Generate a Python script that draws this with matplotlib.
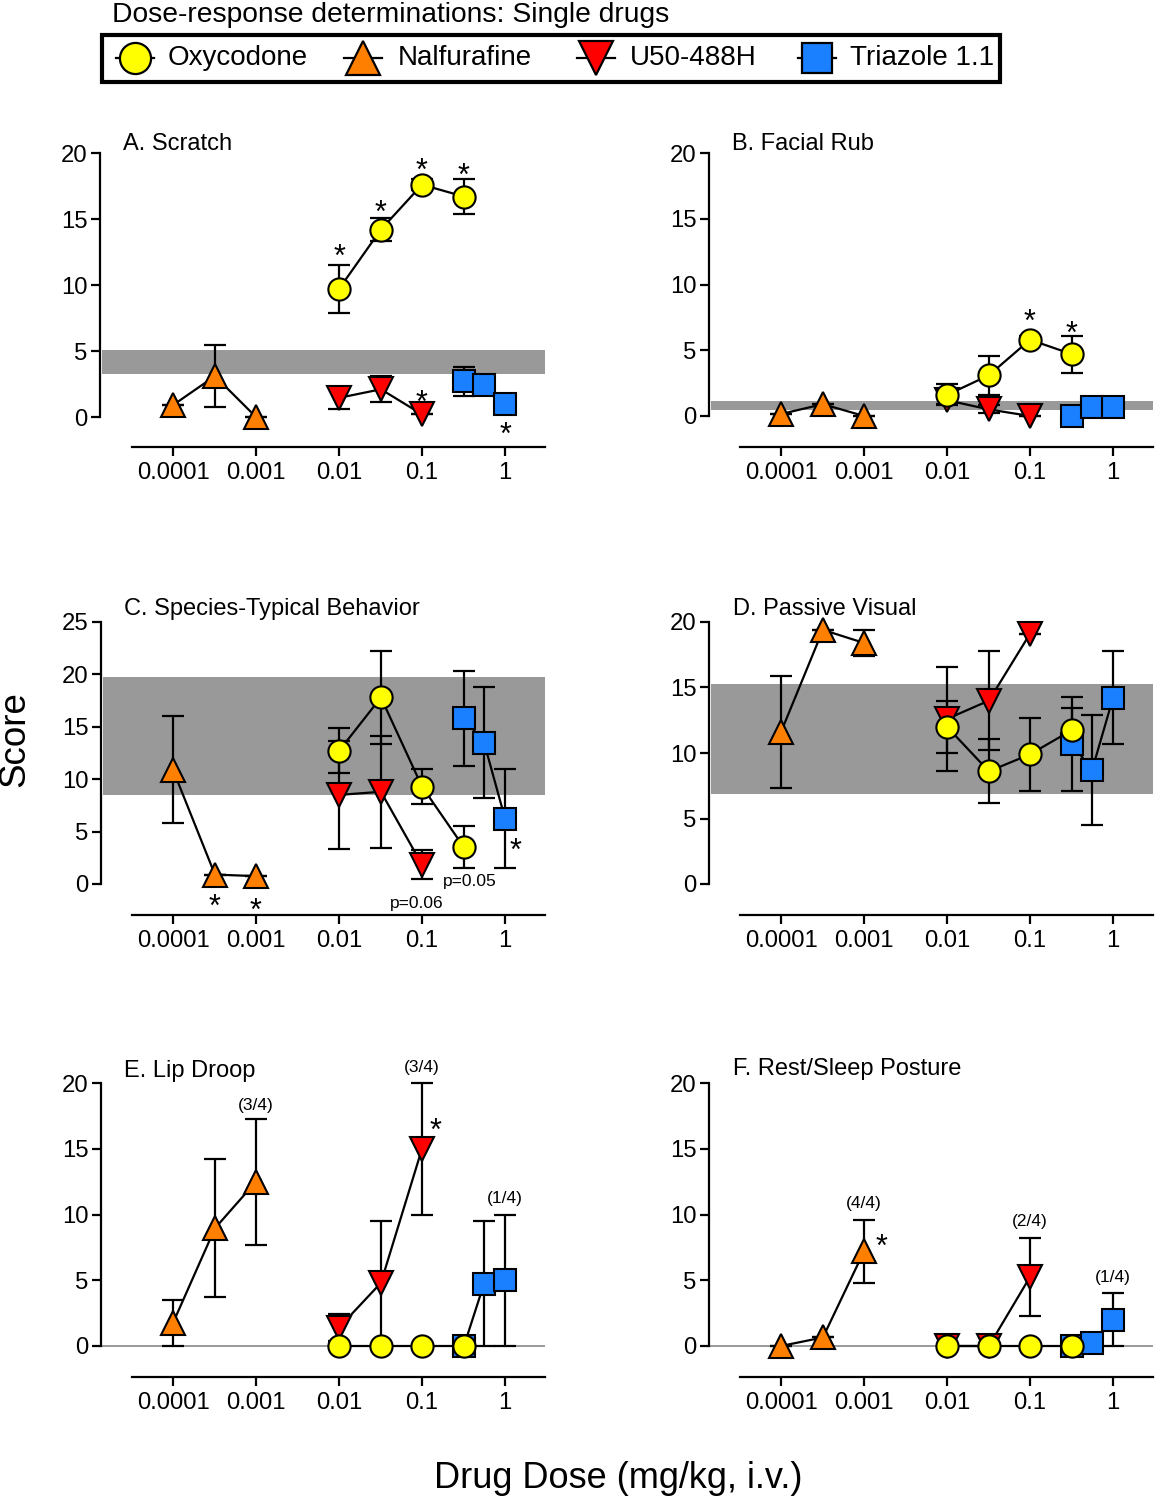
import matplotlib
matplotlib.use('Agg')
import matplotlib.pyplot as plt
import numpy as np
from matplotlib.transforms import ScaledTranslation
from matplotlib.ticker import NullLocator
from matplotlib.patches import Rectangle

plt.rcParams['font.family'] = ['Liberation Sans', 'DejaVu Sans']

# ---------------- data ----------------
dose_nal = [1e-4, 3.2e-4, 1e-3]
dose_oxy = [0.01, 0.032, 0.1, 0.32]
dose_u50 = [0.01, 0.032, 0.1]
dose_tri = [0.32, 0.56, 1.0]

drug_names = ['Oxycodone', 'Nalfurafine', 'U50-488H', 'Triazole 1.1']
tick_vals = [1e-4, 1e-3, 1e-2, 1e-1, 1]
tick_labels = ['0.0001', '0.001', '0.01', '0.1', '1']

# A. Scratch
A_oxy = [9.7, 14.2, 17.6, 16.7];   A_oxy_sem = [1.85, 0.9, 0.4, 1.3]
A_nal = [0.9, 3.1, 0.0];           A_nal_sem = [0.0, 2.35, 0.0]
A_u50 = [1.45, 2.1, 0.2];          A_u50_sem = [0.85, 1.0, 0.0]
A_tri = [2.7, 2.4, 0.95];          A_tri_sem = [1.1, 0.5, 0.3]
A_band = [3.25, 5.07]
# B. Facial Rub
B_oxy = [1.6, 3.1, 5.8, 4.7];      B_oxy_sem = [0.8, 1.5, 0.3, 1.4]
B_nal = [0.15, 0.9, 0.0];          B_nal_sem = [0.0, 0.0, 0.0]
B_u50 = [1.2, 0.5, 0.0];           B_u50_sem = [0.3, 0.3, 0.0]
B_tri = [0.0, 0.7, 0.7];           B_tri_sem = [0.0, 0.0, 0.0]
B_band = [0.45, 1.15]
# C. Species-Typical Behavior
C_oxy = [12.7, 17.8, 9.3, 3.5];    C_oxy_sem = [2.15, 4.4, 1.65, 2.0]
C_nal = [10.9, 0.9, 0.75];         C_nal_sem = [5.1, 0.0, 0.0]
C_u50 = [8.5, 8.8, 1.85];          C_u50_sem = [5.15, 5.35, 1.4]
C_tri = [15.8, 13.5, 6.25];        C_tri_sem = [4.55, 5.3, 4.7]
C_band = [8.5, 19.75]
# D. Passive Visual
D_oxy = [12.0, 8.6, 9.9, 11.75];   D_oxy_sem = [2.0, 2.45, 2.8, 1.7]
D_nal = [11.6, 19.4, 18.4];        D_nal_sem = [4.3, 0.0, 1.0]
D_u50 = [12.6, 14.0, 19.1];        D_u50_sem = [4.0, 3.8, 0.0]
D_tri = [10.7, 8.7, 14.2];         D_tri_sem = [3.6, 4.2, 3.55]
D_band = [6.9, 15.3]
# E. Lip Droop
E_oxy = [0.0, 0.0, 0.0, 0.0];      E_oxy_sem = [0.0, 0.0, 0.0, 0.0]
E_nal = [1.75, 8.95, 12.5];        E_nal_sem = [1.75, 5.25, 4.8]
E_u50 = [1.4, 4.8, 15.0];          E_u50_sem = [1.0, 4.7, 5.0]
E_tri = [0.0, 4.75, 5.0];          E_tri_sem = [0.0, 4.75, 5.0]
# F. Rest/Sleep Posture
F_oxy = [0.0, 0.0, 0.0, 0.0];      F_oxy_sem = [0.0, 0.0, 0.0, 0.0]
F_nal = [0.0, 0.65, 7.2];          F_nal_sem = [0.0, 0.0, 2.4]
F_u50 = [0.0, 0.0, 5.25];          F_u50_sem = [0.0, 0.0, 3.0]
F_tri = [0.0, 0.2, 2.0];           F_tri_sem = [0.0, 0.0, 2.0]

# ---------------- styles ----------------
COL = {'oxy': '#FFFF00', 'nal': '#FF8000', 'u50': '#FF0000', 'tri': '#1A80FF'}
MRK = {'oxy': 'o', 'nal': '^', 'u50': 'v', 'tri': 's'}
MS = {'oxy': 16, 'nal': 17, 'u50': 17, 'tri': 15.5}
ZO = {'nal': 4, 'u50': 5, 'tri': 6, 'oxy': 7}
DOSE = {'oxy': dose_oxy, 'nal': dose_nal, 'u50': dose_u50, 'tri': dose_tri}

W, H = 1155, 1500
fig = plt.figure(figsize=(W / 100, H / 100), dpi=100)

FS_TICK = 17.2
FS_TITLE = 17
FS_STAR = 22
FS_NOTE = 12.5
DEC = 83.0

# panel geometry in pixels: spine x, right end, y of top tick, y of zero, y of x axis, ymax, tick0 x
panels = [
    dict(key='A', title='A. Scratch', spine=100, right=545, top=153, zero=417, bot=447, ymax=20,
         tick0=173, tx=123, ty=150,
         series={'nal': (A_nal, A_nal_sem), 'u50': (A_u50, A_u50_sem),
                 'tri': (A_tri, A_tri_sem), 'oxy': (A_oxy, A_oxy_sem)},
         band=A_band, zeroline=False,
         notes=[(0.01, 12.8, '*'), (0.032, 16.1, '*'), (0.1, 19.3, '*'), (0.32, 18.9, '*'),
                (0.1, 1.7, '*'), (1.0, -0.7, '*')]),
    dict(key='B', title='B. Facial Rub', spine=709, right=1153, top=153, zero=416, bot=447, ymax=20,
         tick0=781, tx=732, ty=150,
         series={'nal': (B_nal, B_nal_sem), 'u50': (B_u50, B_u50_sem),
                 'tri': (B_tri, B_tri_sem), 'oxy': (B_oxy, B_oxy_sem)},
         band=B_band, zeroline=False,
         notes=[(0.1, 7.8, '*'), (0.32, 6.9, '*')]),
    dict(key='C', title='C. Species-Typical Behavior', spine=101, right=545, top=622, zero=884, bot=915, ymax=25,
         tick0=173, tx=124, ty=615,
         series={'nal': (C_nal, C_nal_sem), 'u50': (C_u50, C_u50_sem),
                 'tri': (C_tri, C_tri_sem), 'oxy': (C_oxy, C_oxy_sem)},
         band=C_band, zeroline=False,
         notes=[(3.2e-4, -1.4, '*'), (1e-3, -1.7, '*'), (1.32, 4.0, '*'),
                (0.087, -1.85, 'p=0.06'), (0.38, 0.2, 'p=0.05')]),
    dict(key='D', title='D. Passive Visual', spine=709, right=1153, top=622, zero=884, bot=915, ymax=20,
         tick0=781, tx=733, ty=615,
         series={'nal': (D_nal, D_nal_sem), 'u50': (D_u50, D_u50_sem),
                 'tri': (D_tri, D_tri_sem), 'oxy': (D_oxy, D_oxy_sem)},
         band=D_band, zeroline=False, notes=[]),
    dict(key='E', title='E. Lip Droop', spine=101, right=545, top=1083, zero=1346, bot=1377, ymax=20,
         tick0=173, tx=124, ty=1077,
         series={'nal': (E_nal, E_nal_sem), 'u50': (E_u50, E_u50_sem),
                 'tri': (E_tri, E_tri_sem), 'oxy': (E_oxy, E_oxy_sem)},
         band=None, zeroline=True,
         notes=[(1e-3, 18.3, '(3/4)'), (0.1, 21.2, '(3/4)'), (0.147, 17.0, '*'), (1.0, 11.2, '(1/4)')]),
    dict(key='F', title='F. Rest/Sleep Posture', spine=709, right=1153, top=1083, zero=1346, bot=1377, ymax=20,
         tick0=781, tx=733, ty=1075,
         series={'nal': (F_nal, F_nal_sem), 'u50': (F_u50, F_u50_sem),
                 'tri': (F_tri, F_tri_sem), 'oxy': (F_oxy, F_oxy_sem)},
         band=None, zeroline=True,
         notes=[(1e-3, 10.8, '(4/4)'), (1.63e-3, 8.2, '*'), (0.1, 9.45, '(2/4)'), (1.0, 5.2, '(1/4)')]),
]

for p in panels:
    x0, x1, ytop, ybot = p['spine'], p['right'], p['top'], p['bot']
    ax = fig.add_axes([x0 / W, 1 - ybot / H, (x1 - x0) / W, (ybot - ytop) / H])
    scale = (p['zero'] - ytop) / p['ymax']
    ax.set_ylim(-(ybot - p['zero']) / scale, p['ymax'])
    ax.set_xscale('log')
    tick1 = p['tick0'] + 4 * DEC
    xl = 10 ** (-4 - (p['tick0'] - x0) / DEC)
    xr = 10 ** ((x1 - tick1) / DEC)
    ax.set_xlim(xl, xr)
    for s in ['top', 'right']:
        ax.spines[s].set_visible(False)
    for s in ['left', 'bottom']:
        ax.spines[s].set_linewidth(1.6)
    ax.spines['left'].set_bounds(0, p['ymax'])
    ax.spines['bottom'].set_bounds(10 ** (-4 - 41 / DEC), xr)
    ax.set_xticks(tick_vals)
    ax.set_xticklabels(tick_labels)
    ax.xaxis.set_minor_locator(NullLocator())
    ax.set_yticks(np.arange(0, p['ymax'] + 1, 5))
    ax.tick_params(axis='both', direction='out', length=6.5, width=1.6, labelsize=FS_TICK, color='black')
    ax.tick_params(axis='x', pad=4)
    ax.tick_params(axis='y', pad=2.5)

    if p['band'] is not None:
        ax.axhspan(p['band'][0], p['band'][1], xmin=2 / (x1 - x0), xmax=1, color='#999999', lw=0, zorder=1)
    if p['zeroline']:
        ax.axhline(0, xmin=0, xmax=1, color='#999999', lw=1.4, zorder=1)

    for key in ['nal', 'u50', 'tri', 'oxy']:
        vals, sem = p['series'][key]
        ax.errorbar(DOSE[key], vals, yerr=sem, fmt='none', ecolor='black', elinewidth=1.6,
                    capsize=8, capthick=1.6, zorder=2, clip_on=False)
    for key in ['nal', 'u50', 'tri', 'oxy']:
        vals, sem = p['series'][key]
        ax.plot(DOSE[key], vals, '-', color='black', lw=1.6, zorder=3, clip_on=False)
        ax.plot(DOSE[key], vals, linestyle='none', marker=MRK[key], ms=MS[key], mfc=COL[key],
                mec='black', mew=1.5, zorder=ZO[key], clip_on=False)

    for (xd, yd, txt) in p['notes']:
        if txt == '*':
            off = ScaledTranslation(0, -0.58 * FS_STAR / 72, fig.dpi_scale_trans)
            ax.text(xd, yd, txt, fontsize=FS_STAR, ha='center', va='baseline',
                    transform=ax.transData + off, zorder=10, clip_on=False)
        else:
            ax.text(xd, yd, txt, fontsize=FS_NOTE, ha='center', va='center', zorder=10, clip_on=False)

    fig.text(p['tx'] / W, 1 - p['ty'] / H, p['title'], fontsize=FS_TITLE, ha='left', va='baseline')

# axis labels
fig.text(15 / W, 1 - 739 / H, 'Score', fontsize=26.5, rotation=90, ha='center', va='center')
fig.text(618 / W, 1 - 1478 / H, 'Drug Dose (mg/kg, i.v.)', fontsize=26, ha='center', va='center')

# legend (drawn on an overlay axes in pixel units)
lax = fig.add_axes([0, 0, 1, 1])
lax.set_xlim(0, W)
lax.set_ylim(H, 0)
lax.axis('off')
fig.text(112 / W, 1 - 22 / H, 'Dose-response determinations: Single drugs', fontsize=20.3,
         ha='left', va='baseline')
lax.add_patch(Rectangle((102, 35), 898, 47, fill=False, lw=3, ec='black'))
leg_mx = [135, 363, 596, 817]
leg_tx = [168, 398, 630, 850]
leg_keys = ['oxy', 'nal', 'u50', 'tri']
for k, mx, tx, name in zip(leg_keys, leg_mx, leg_tx, drug_names):
    lax.plot([mx - 19, mx + 19], [58, 58], color='black', lw=1.6)
    lax.plot([mx], [58], marker=MRK[k], ms=MS[k] * 1.4, mfc=COL[k], mec='black', mew=1.6, linestyle='none')
    lax.text(tx, 58, name, fontsize=20, ha='left', va='center')

fig.savefig('out.png', dpi=100)
